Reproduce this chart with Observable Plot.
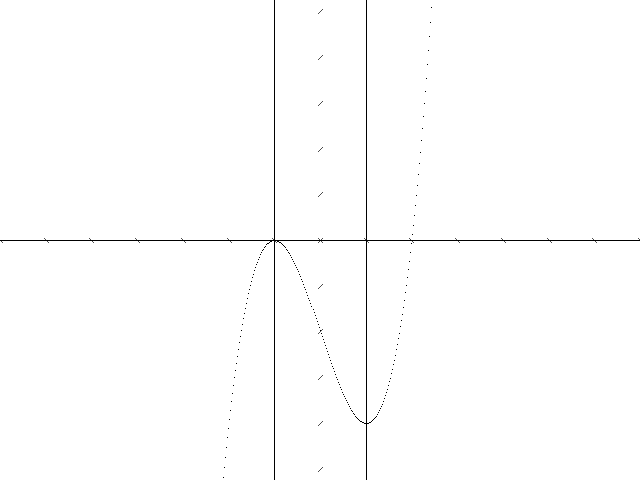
<!DOCTYPE html>
<html>
<head>
<meta charset="utf-8">
<script src="https://cdn.jsdelivr.net/npm/d3@7"></script>
<script src="https://cdn.jsdelivr.net/npm/@observablehq/plot@0.6"></script>
<style>
  html, body { margin: 0; padding: 0; background: #fff; }
  svg { display: block; }
</style>
</head>
<body>
<div id="chart"></div>
<script>
// Sample points of the plotted curve
const curveX = [
-1.122,-1.100,-1.078,-1.056,-1.034,-1.012,-0.990,-0.968,-0.946,-0.924,
-0.902,-0.880,-0.858,-0.836,-0.814,-0.792,-0.770,-0.748,-0.726,-0.704,
-0.682,-0.660,-0.638,-0.616,-0.594,-0.572,-0.550,-0.528,-0.506,-0.484,
-0.462,-0.440,-0.418,-0.396,-0.374,-0.352,-0.330,-0.308,-0.286,-0.264,
-0.242,-0.220,-0.198,-0.176,-0.154,-0.132,-0.110,-0.088,-0.066,-0.044,
-0.022,0.000,0.022,0.044,0.066,0.088,0.110,0.132,0.154,0.176,
0.198,0.220,0.242,0.264,0.286,0.308,0.330,0.352,0.374,0.396,
0.418,0.440,0.462,0.484,0.506,0.528,0.550,0.572,0.594,0.616,
0.638,0.660,0.682,0.704,0.726,0.748,0.770,0.792,0.814,0.836,
0.858,0.880,0.902,0.924,0.946,0.968,0.990,1.012,1.034,1.056,
1.078,1.100,1.122,1.144,1.166,1.188,1.210,1.232,1.254,1.276,
1.298,1.320,1.342,1.364,1.386,1.408,1.430,1.452,1.474,1.496,
1.518,1.540,1.562,1.584,1.606,1.628,1.650,1.672,1.694,1.716,
1.738,1.760,1.782,1.804,1.826,1.848,1.870,1.892,1.914,1.936,
1.958,1.980,2.002,2.024,2.046,2.068,2.090,2.112,2.134,2.156,
2.178,2.200,2.222,2.244,2.266,2.288,2.310,2.332,2.354,2.376,
2.398,2.420,2.442,2.464,2.486,2.508,2.530,2.552,2.574,2.596,
2.618,2.640,2.662,2.684,2.706,2.728,2.750,2.772,2.794,2.816,
2.838,2.860,2.882,2.904,2.926,2.948,2.970,2.992,3.014,3.036,
3.058,3.080,3.102,3.124,3.146,3.168,3.190,3.212,3.234,3.256,
3.278,3.300,3.322,3.344,3.366,3.388,3.410,3.432
];
const curveY = [
-5.189,-4.961,-4.739,-4.523,-4.313,-4.109,-3.911,-3.718,-3.531,-3.350,
-3.175,-3.005,-2.840,-2.681,-2.527,-2.379,-2.235,-2.097,-1.964,-1.836,
-1.713,-1.594,-1.481,-1.372,-1.268,-1.169,-1.074,-0.984,-0.898,-0.816,
-0.739,-0.666,-0.597,-0.533,-0.472,-0.415,-0.363,-0.314,-0.269,-0.227,
-0.190,-0.156,-0.125,-0.098,-0.075,-0.055,-0.038,-0.024,-0.013,-0.006,
-0.001,0.000,-0.001,-0.006,-0.013,-0.023,-0.035,-0.050,-0.067,-0.087,
-0.110,-0.135,-0.162,-0.191,-0.222,-0.255,-0.291,-0.328,-0.367,-0.408,
-0.451,-0.496,-0.542,-0.589,-0.639,-0.689,-0.741,-0.794,-0.849,-0.905,
-0.961,-1.019,-1.078,-1.138,-1.199,-1.260,-1.322,-1.385,-1.448,-1.512,
-1.577,-1.642,-1.707,-1.772,-1.838,-1.904,-1.970,-2.036,-2.102,-2.168,
-2.234,-2.299,-2.364,-2.429,-2.493,-2.557,-2.621,-2.684,-2.746,-2.807,
-2.868,-2.927,-2.986,-3.044,-3.101,-3.156,-3.210,-3.264,-3.316,-3.366,
-3.415,-3.463,-3.509,-3.553,-3.595,-3.636,-3.675,-3.713,-3.748,-3.781,
-3.812,-3.841,-3.868,-3.892,-3.914,-3.934,-3.952,-3.966,-3.978,-3.988,
-3.995,-3.999,-4.000,-3.998,-3.994,-3.986,-3.975,-3.961,-3.944,-3.923,
-3.899,-3.872,-3.841,-3.807,-3.769,-3.727,-3.682,-3.633,-3.580,-3.523,
-3.462,-3.397,-3.328,-3.254,-3.177,-3.095,-3.008,-2.918,-2.822,-2.723,
-2.618,-2.509,-2.395,-2.276,-2.153,-2.024,-1.891,-1.752,-1.608,-1.459,
-1.305,-1.145,-0.980,-0.810,-0.634,-0.452,-0.265,-0.072,0.127,0.332,
0.542,0.759,0.981,1.210,1.445,1.686,1.933,2.187,2.447,2.714,
2.987,3.267,3.554,3.847,4.147,4.454,4.768,5.088
];
// Axis tick positions
const xTicks = [-6,-5,-4,-3,-2,-1,0,1,2,3,4,5,6,7,8];
const yTicks = [-5,-4,-3,-2,-1,0,1,2,3,4,5];
const yTickColumn = 1;      // the vertical tick marks sit on the x = 1 column
const verticalLines = [0, 2];

const curve = curveX.map((x, i) => ({x, y: curveY[i]}));
const xTickData = xTicks.map(x => ({x, y: 0}));
const yTickData = yTicks.map(y => ({x: yTickColumn, y}));

const backslash = {draw(ctx) { ctx.moveTo(-2.5, -2.5); ctx.lineTo(2.5, 2.5); }};
const slash = {draw(ctx) { ctx.moveTo(-2.5, 2.5); ctx.lineTo(2.5, -2.5); }};
const pixel = {draw(ctx) { ctx.rect(-0.5, -0.5, 1, 1); }};

const chart = Plot.plot({
  width: 640,
  height: 480,
  margin: 0,
  x: {domain: [-6, 8], axis: null},
  y: {domain: [-5.25, 5.25], axis: null},
  style: {background: "#fff"},
  marks: [
    Plot.ruleY([0], {stroke: "black", strokeWidth: 1, shapeRendering: "crispEdges"}),
    Plot.ruleX(verticalLines, {stroke: "black", strokeWidth: 1, shapeRendering: "crispEdges"}),
    Plot.dot(xTickData, {x: "x", y: "y", symbol: backslash, stroke: "black", fill: "none", strokeWidth: 0.7, r: 3, shapeRendering: "crispEdges"}),
    Plot.dot(yTickData, {x: "x", y: "y", symbol: slash, stroke: "black", fill: "none", strokeWidth: 0.7, r: 3, shapeRendering: "crispEdges"}),
    Plot.dot(curve, {x: "x", y: "y", symbol: pixel, fill: "black", stroke: "none", r: 1, shapeRendering: "crispEdges"})
  ]
});
document.getElementById("chart").appendChild(chart);
</script>
</body>
</html>
